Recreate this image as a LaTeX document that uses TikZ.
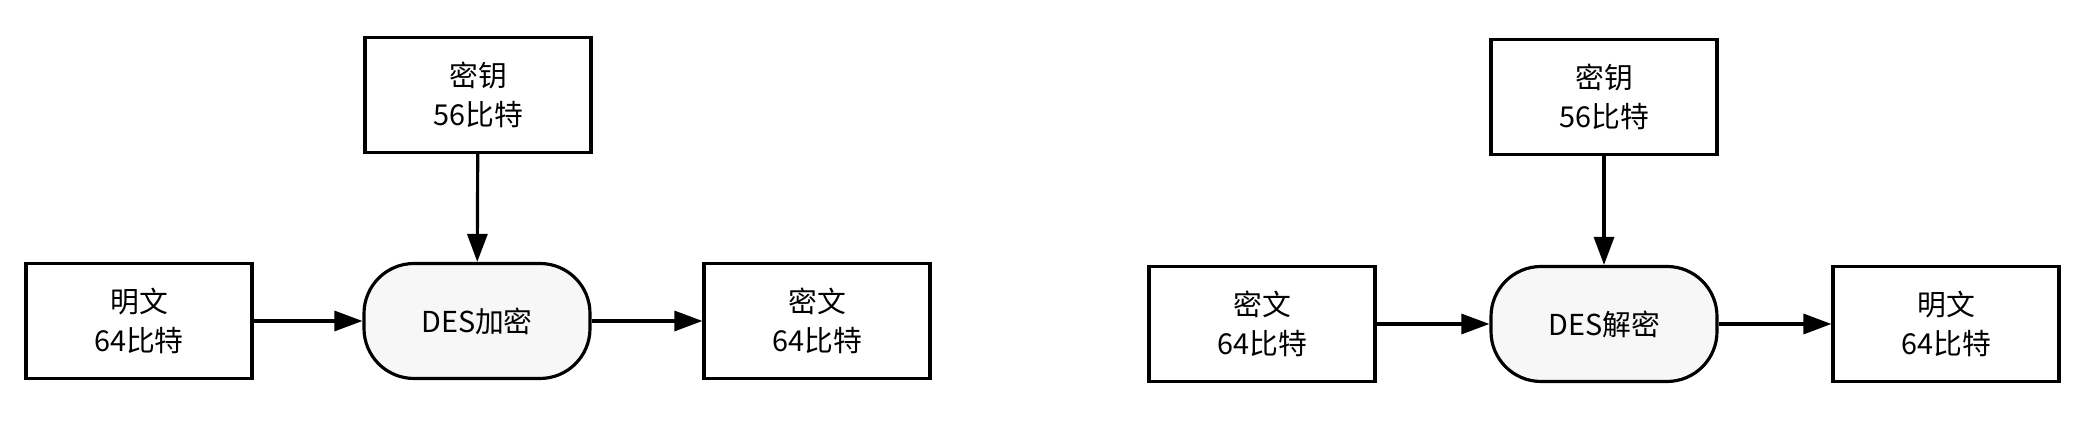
\documentclass[tikz,border=0pt]{standalone}
\usepackage{fontspec}
\setmainfont{Noto Sans CJK SC}
\usetikzlibrary{arrows.meta}

\begin{document}
\begin{tikzpicture}[
		font=\fontsize{8.2}{11}\selectfont,
		databox/.style={draw, line width=0.9pt, minimum width=2.26cm, minimum height=1.15cm, align=center, inner sep=0pt},
		desbox/.style={databox, rounded corners=0.5cm, fill=gray!6},
		flow/.style={line width=0.9pt, -{Triangle[length=2.8mm,width=2mm]}}
	]
			\useasboundingbox (0,0) rectangle (20.76,4.28);
	%		encryption
			\node[databox] (keyA) at (4.78,3.33) {密钥\\56比特};
			\node[databox] (plainA) at (1.39,1.07) {明文\\64比特};
			\node[desbox] (enc) at (4.77,1.07) {DES加密};
			\node[databox] (cipherA) at (8.17,1.07) {密文\\64比特};
			\draw[flow] (keyA) -- (enc);
			\draw[flow] (plainA) -- (enc);
			\draw[flow] (enc) -- (cipherA);
	%		decryption
			\node[databox] (keyB) at (16.04,3.31) {密钥\\56比特};
			\node[databox] (cipherB) at (12.62,1.04) {密文\\64比特};
			\node[desbox] (dec) at (16.04,1.04) {DES解密};
			\node[databox] (plainB) at (19.46,1.04) {明文\\64比特};
			\draw[flow] (keyB) -- (dec);
			\draw[flow] (cipherB) -- (dec);
			\draw[flow] (dec) -- (plainB);
		\end{tikzpicture}
\end{document}
